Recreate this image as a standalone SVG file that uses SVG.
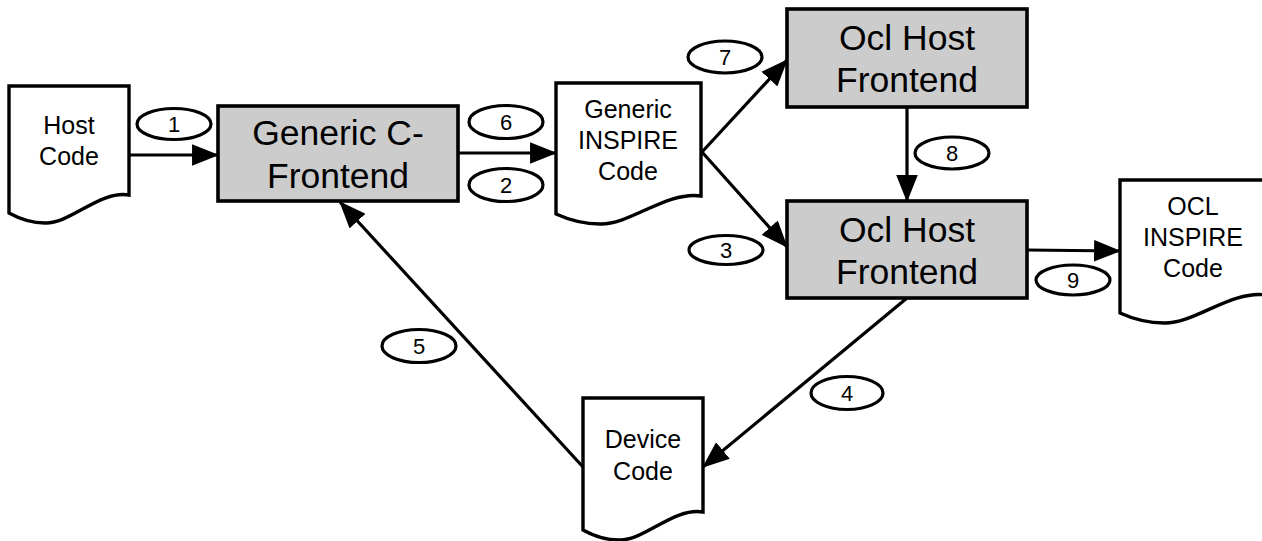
<svg xmlns="http://www.w3.org/2000/svg" width="1262" height="541" viewBox="0 0 1262 541">
  <style>
    .doc { fill: #ffffff; stroke: #000000; stroke-width: 3.4; stroke-linejoin: miter; }
    .box { fill: #cccccc; stroke: #000000; stroke-width: 3.6; }
    .tag { fill: #ffffff; stroke: #000000; stroke-width: 3.2; }
    .edge { stroke: #000000; stroke-width: 3.2; fill: none; marker-end: url(#arrow); }
    .doc-text { font-family: "Liberation Sans", Arial, sans-serif; font-size: 25px; text-anchor: middle; fill: #000000; }
    .box-text { font-family: "Liberation Sans", Arial, sans-serif; font-size: 35.5px; text-anchor: middle; fill: #000000; }
    .tag-text { font-family: "Liberation Sans", Arial, sans-serif; font-size: 22px; text-anchor: middle; fill: #000000; }
  </style>
  <defs>
    <marker id="arrow" markerUnits="userSpaceOnUse" markerWidth="27" markerHeight="22" viewBox="0 0 25 20" refX="24" refY="10" orient="auto">
      <path d="M0,0 L25,10 L0,20 Z" fill="#000000"/>
    </marker>
  </defs>

  <rect width="1262" height="541" fill="#ffffff"/>

  <!-- connectors -->
  <g id="connectors">
    <line class="edge" x1="129" y1="155" x2="218" y2="155"/>
    <line class="edge" x1="458" y1="153" x2="556" y2="153"/>
    <line class="edge" x1="702" y1="152" x2="787" y2="60"/>
    <line class="edge" x1="702" y1="152" x2="787" y2="247"/>
    <line class="edge" x1="907" y1="107" x2="907" y2="201"/>
    <line class="edge" x1="1027" y1="250" x2="1120" y2="251"/>
    <line class="edge" x1="907" y1="298" x2="703" y2="467"/>
    <line class="edge" x1="583" y1="467" x2="340" y2="202"/>
  </g>

  <!-- documents -->
  <g id="host-code">
    <path class="doc" d="M9,86 H129 V195 C100,190 70,224 45,223 C30,223 18,218 9,213 Z"/>
    <text class="doc-text" x="69" y="134">Host</text>
    <text class="doc-text" x="69" y="165">Code</text>
  </g>

  <g id="generic-inspire-code">
    <path class="doc" d="M556,83 H701 V196 C666,191 630,225 600,224 C581,224 567,219 556,214 Z"/>
    <text class="doc-text" x="628" y="118">Generic</text>
    <text class="doc-text" x="628" y="149">INSPIRE</text>
    <text class="doc-text" x="628" y="180">Code</text>
  </g>

  <g id="ocl-inspire-code">
    <path class="doc" d="M1120,180 H1266 V295 C1231,290 1194,324 1164,323 C1146,323 1131,318 1120,313 Z"/>
    <text class="doc-text" x="1193" y="215">OCL</text>
    <text class="doc-text" x="1193" y="246">INSPIRE</text>
    <text class="doc-text" x="1193" y="277">Code</text>
  </g>

  <g id="device-code">
    <path class="doc" d="M583,398 H703 V512 C674,507 644,541 619,540 C604,540 592,535 583,530 Z"/>
    <text class="doc-text" x="643" y="448">Device</text>
    <text class="doc-text" x="643" y="480">Code</text>
  </g>

  <!-- processing stages -->
  <g id="generic-c-frontend">
    <rect class="box" x="218" y="106" width="240" height="95"/>
    <text class="box-text" x="338" y="145">Generic C-</text>
    <text class="box-text" x="338" y="188">Frontend</text>
  </g>

  <g id="ocl-host-frontend-upper">
    <rect class="box" x="787" y="9" width="240" height="98"/>
    <text class="box-text" x="907" y="50">Ocl Host</text>
    <text class="box-text" x="907" y="92">Frontend</text>
  </g>

  <g id="ocl-host-frontend-lower">
    <rect class="box" x="787" y="201" width="240" height="97"/>
    <text class="box-text" x="907" y="242">Ocl Host</text>
    <text class="box-text" x="907" y="284">Frontend</text>
  </g>

  <!-- step numbers -->
  <g id="step-1"><ellipse class="tag" cx="174" cy="124" rx="37" ry="15.5"/><text class="tag-text" x="174" y="132">1</text></g>
  <g id="step-2"><ellipse class="tag" cx="506" cy="185" rx="37" ry="16.5"/><text class="tag-text" x="506" y="193">2</text></g>
  <g id="step-3"><ellipse class="tag" cx="726" cy="250" rx="37" ry="14.5"/><text class="tag-text" x="726" y="258">3</text></g>
  <g id="step-4"><ellipse class="tag" cx="847" cy="393" rx="36" ry="16.5"/><text class="tag-text" x="847" y="401">4</text></g>
  <g id="step-5"><ellipse class="tag" cx="419" cy="346" rx="37" ry="16.5"/><text class="tag-text" x="419" y="354">5</text></g>
  <g id="step-6"><ellipse class="tag" cx="506" cy="122" rx="37" ry="16.5"/><text class="tag-text" x="506" y="130">6</text></g>
  <g id="step-7"><ellipse class="tag" cx="725" cy="57" rx="37" ry="16"/><text class="tag-text" x="725" y="65">7</text></g>
  <g id="step-8"><ellipse class="tag" cx="952" cy="153" rx="37" ry="16"/><text class="tag-text" x="952" y="161">8</text></g>
  <g id="step-9"><ellipse class="tag" cx="1073" cy="280" rx="37" ry="15"/><text class="tag-text" x="1073" y="288">9</text></g>
</svg>
